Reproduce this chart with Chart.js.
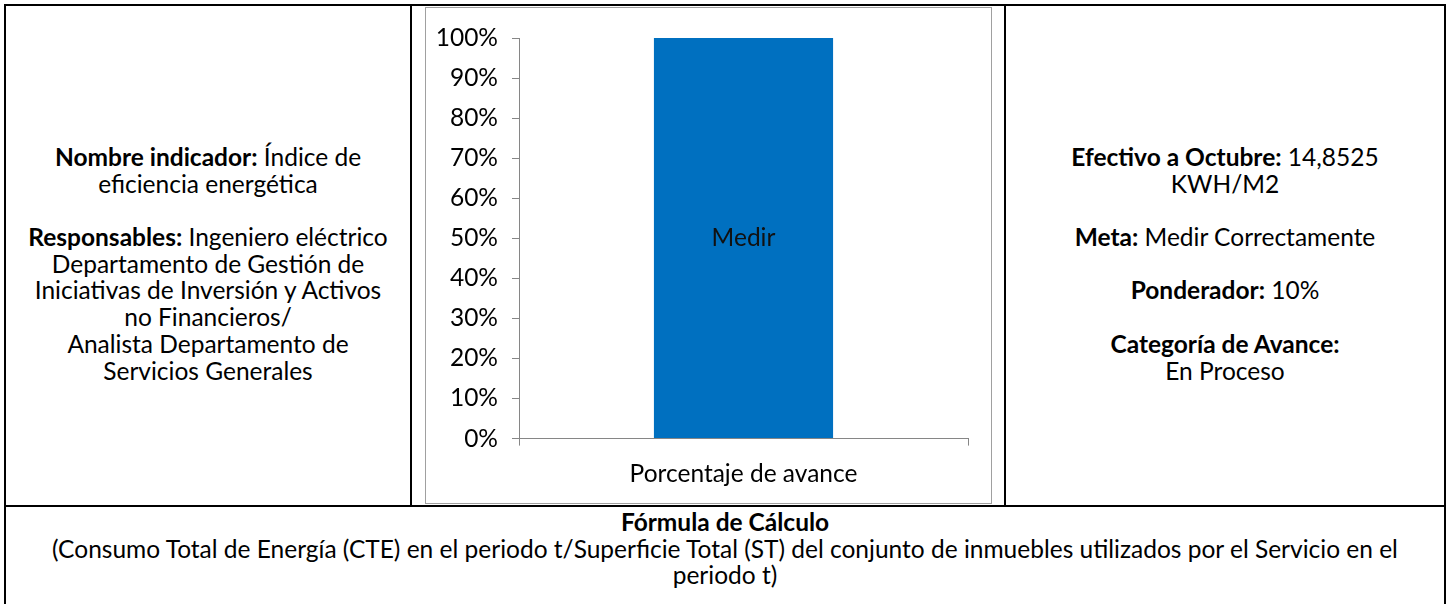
<!DOCTYPE html>
<html>
<head>
<meta charset="utf-8">
<script src="https://cdn.jsdelivr.net/npm/chart.js@4.4.1/dist/chart.umd.min.js"></script>
<style>
  body { margin: 0; background: #fff; font-family: Lato, "Open Sans", sans-serif; color: #000; }
  #page { position: relative; width: 1453px; height: 604px; overflow: hidden; }
  .ln { position: absolute; background: #000; }
  .cell { position: absolute; text-align: center; font-size: 24.5px; line-height: 26.7px; white-space: nowrap; }
  .cell div { height: 26.7px; }
  #frame { position: absolute; left: 425px; top: 7px; width: 565px; height: 495px; border: 1px solid #a0a0a0; }
  #chart { position: absolute; left: 0; top: 0; }
</style>
</head>
<body>
<div id="page">
  <div class="ln" style="left:4px;top:4px;width:1442px;height:2px"></div>
  <div class="ln" style="left:4px;top:4px;width:2px;height:600px"></div>
  <div class="ln" style="left:1444px;top:4px;width:2px;height:600px"></div>
  <div class="ln" style="left:410px;top:4px;width:2px;height:502px"></div>
  <div class="ln" style="left:1004px;top:4px;width:2px;height:502px"></div>
  <div class="ln" style="left:4px;top:505px;width:1442px;height:2px"></div>

  <div class="cell" style="left:6px;width:404px;top:144px">
    <div><b>Nombre indicador:</b> Índice de</div>
    <div>eficiencia energética</div>
    <div></div>
    <div><b>Responsables:</b> Ingeniero eléctrico</div>
    <div>Departamento de Gestión de</div>
    <div>Iniciativas de Inversión y Activos</div>
    <div>no Financieros/</div>
    <div>Analista Departamento de</div>
    <div>Servicios Generales</div>
  </div>

  <div class="cell" style="left:1006px;width:438px;top:144px">
    <div><b>Efectivo a Octubre:</b> 14,8525</div>
    <div>KWH/M2</div>
    <div></div>
    <div><b>Meta:</b> Medir Correctamente</div>
    <div></div>
    <div><b>Ponderador:</b> 10%</div>
    <div></div>
    <div><b>Categoría de Avance:</b></div>
    <div>En Proceso</div>
  </div>

  <div class="cell" style="left:6px;width:1438px;top:509px">
    <div><b>Fórmula de Cálculo</b></div>
    <div>(Consumo Total de Energía (CTE) en el periodo t/Superficie Total (ST) del conjunto de inmuebles utilizados por el Servicio en el</div>
    <div>periodo t)</div>
  </div>

  <div id="frame"><canvas id="chart" width="565" height="495"></canvas></div>
</div>

<script>
const categories = ["Porcentaje de avance"];
const avance = [100];
const barLabels = ["Medir"];
const yMin = 0;
const yMax = 100;
const yStep = 10;

const axisGray = "#868686";
const labelFont = { family: "Lato, 'Open Sans', sans-serif", size: 24.5 };

// writes the text label in the middle of each bar
const barTextPlugin = {
  id: "barText",
  afterDatasetsDraw(chart) {
    const ctx = chart.ctx;
    chart.getDatasetMeta(0).data.forEach((bar, i) => {
      ctx.save();
      ctx.fillStyle = "#111";
      ctx.font = `${labelFont.size}px ${labelFont.family}`;
      ctx.textAlign = "center";
      ctx.textBaseline = "middle";
      ctx.fillText(barLabels[i], bar.x, (bar.y + bar.base) / 2);
      ctx.restore();
    });
  },
};

const data = {
  labels: categories,
  datasets: [
    {
      data: avance,
      backgroundColor: "#0070C0",
      borderWidth: 0,
      categoryPercentage: 1,
      barPercentage: 0.399,
    },
  ],
};

const options = {
  responsive: false,
  animation: false,
  layout: { padding: { top: 30, right: 23, left: 0, bottom: 0 } },
  plugins: {
    legend: { display: false },
    tooltip: { enabled: false },
  },
  scales: {
    x: {
      grid: { drawOnChartArea: false, color: axisGray, tickLength: 7 },
      border: { color: axisGray, width: 1 },
      ticks: { color: "#000", font: labelFont, padding: 14 },
    },
    y: {
      min: yMin,
      max: yMax,
      grid: { drawOnChartArea: false, color: axisGray, tickLength: 7 },
      border: { color: axisGray, width: 1 },
      ticks: {
        stepSize: yStep,
        color: "#000",
        font: labelFont,
        padding: 14,
        callback: (v) => v + "%",
      },
      afterFit: (scale) => { scale.width = 93; },
    },
  },
};

new Chart("chart", { type: "bar", data, options, plugins: [barTextPlugin] });
</script>
</body>
</html>
